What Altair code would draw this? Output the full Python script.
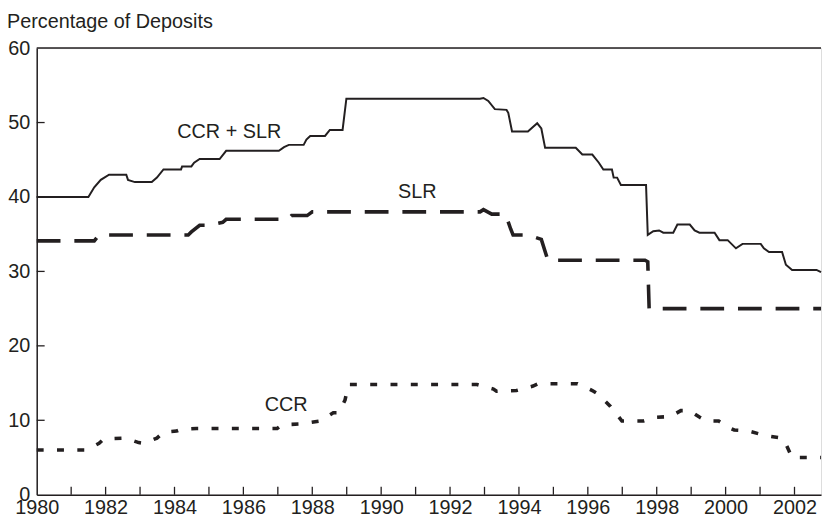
import altair as alt
import pandas as pd

# ---- data ----
ccr_slr_x = [1980.0, 1981.50, 1981.67, 1981.86, 1982.10, 1982.60, 1982.65, 1982.85, 1983.34, 1983.49,
             1983.68, 1984.19, 1984.22, 1984.49, 1984.57, 1984.73, 1985.31, 1985.50, 1987.03, 1987.18,
             1987.32, 1987.75, 1987.83, 1987.94, 1988.37, 1988.51, 1988.88, 1988.99, 1992.87, 1992.97,
             1993.11, 1993.30, 1993.64, 1993.69, 1993.80, 1994.26, 1994.53, 1994.65, 1994.76, 1995.65,
             1995.84, 1996.13, 1996.32, 1996.45, 1996.70, 1996.75, 1996.85, 1996.96, 1997.69, 1997.74,
             1997.90, 1998.07, 1998.19, 1998.48, 1998.60, 1998.96, 1999.10, 1999.24, 1999.68, 1999.82,
             2000.06, 2000.30, 2000.49, 2001.02, 2001.11, 2001.26, 2001.64, 2001.75, 2001.93, 2002.64,
             2002.77]
ccr_slr_y = [40.0, 40.0, 41.3, 42.3, 43.0, 43.0, 42.3, 42.0, 42.0, 42.6,
             43.7, 43.7, 44.1, 44.1, 44.6, 45.1, 45.1, 46.2, 46.2, 46.7,
             47.0, 47.0, 47.7, 48.2, 48.2, 49.0, 49.0, 53.2, 53.2, 53.3,
             52.9, 51.8, 51.7, 51.3, 48.8, 48.8, 49.9, 49.2, 46.6, 46.6,
             45.7, 45.7, 44.6, 43.7, 43.7, 42.6, 42.6, 41.6, 41.6, 34.9,
             35.4, 35.5, 35.2, 35.2, 36.3, 36.3, 35.5, 35.2, 35.2, 34.2,
             34.2, 33.1, 33.7, 33.7, 33.1, 32.6, 32.6, 30.9, 30.2, 30.2,
             29.9]

slr_x = [1980.0, 1981.67, 1981.81, 1984.40, 1984.49, 1984.73, 1984.97, 1985.40, 1985.50, 1987.30,
         1987.40, 1987.85, 1988.00, 1992.87, 1992.97, 1993.21, 1993.61, 1993.76, 1993.83, 1994.26,
         1994.65, 1994.84, 1997.66, 1997.74, 1997.78, 2002.77]
slr_y = [34.1, 34.1, 34.9, 34.9, 35.3, 36.2, 36.2, 36.6, 37.0, 37.0,
         37.5, 37.5, 38.0, 38.0, 38.3, 37.7, 37.7, 35.7, 34.9, 34.9,
         34.3, 31.5, 31.5, 31.3, 25.0, 25.0]

ccr_x = [1980.0, 1981.43, 1981.81, 1981.95, 1982.58, 1982.96, 1983.10, 1983.49, 1983.68, 1984.06,
         1984.20, 1984.64, 1986.98, 1987.13, 1987.65, 1988.23, 1988.61, 1988.76, 1988.95, 1989.05,
         1992.78, 1993.26, 1993.35, 1993.93, 1994.41, 1994.55, 1995.70, 1996.13, 1996.27, 1996.65,
         1996.99, 1997.61, 1997.95, 1998.40, 1998.70, 1998.95, 1999.25, 1999.45, 1999.80, 2000.15,
         2000.25, 2000.63, 2001.11, 2001.20, 2001.64, 2001.74, 2001.93, 2002.77]
ccr_y = [6.0, 6.0, 6.9, 7.5, 7.6, 7.0, 6.9, 7.6, 8.4, 8.55,
         8.8, 8.9, 8.9, 9.4, 9.5, 9.9, 11.0, 11.0, 12.7, 14.8,
         14.8, 14.2, 13.9, 14.0, 14.6, 14.9, 14.9, 14.0, 13.6, 11.9,
         9.9, 9.9, 10.4, 10.5, 11.3, 11.3, 10.4, 9.9, 9.9, 8.9,
         8.7, 8.6, 8.0, 7.9, 7.6, 6.9, 5.0, 5.0]

label_text = ["CCR + SLR", "SLR", "CCR"]
label_x = [1985.59, 1991.05, 1987.24]
label_y = [48.7, 40.6, 12.1]

x_label_years = list(range(1980, 2003, 2))
x_tick_years = list(range(1981, 2003))
y_label_values = [0, 10, 20, 30, 40, 50, 60]
y_tick_values = [10, 20, 30, 40, 50]
y_title = "Percentage of Deposits"

# ---- layout ----
W, H = 792, 451
FONT = "Liberation Sans"
INK = "#231f20"

xscale = alt.Scale(domain=[1980, 2002.77], nice=False, zero=False)
yscale = alt.Scale(domain=[0, 60], nice=False)


def line_df(xs, ys):
    return pd.DataFrame({"year": xs, "value": ys, "i": list(range(len(xs)))})


x_axis = alt.Axis(values=x_label_years, format="d", tickSize=0, labelPadding=3,
                  labelFlush=False, labelOverlap=False, grid=False, domainColor=INK,
                  domainWidth=1.5, labelFontSize=20, labelFont=FONT, labelColor=INK, title=None)
y_axis = alt.Axis(values=y_label_values, format="d", tickSize=0, labelPadding=7,
                  labelOverlap=False, grid=False, domainColor=INK, domainWidth=1.5,
                  labelFontSize=20, labelFont=FONT, labelColor=INK, title=None)

X = alt.X("year:Q", scale=xscale, axis=x_axis)
Y = alt.Y("value:Q", scale=yscale, axis=y_axis)

total = alt.Chart(line_df(ccr_slr_x, ccr_slr_y)).mark_line(
    color=INK, strokeWidth=2).encode(x=X, y=Y, order="i:Q")

slr = alt.Chart(line_df(slr_x, slr_y)).mark_line(
    color=INK, strokeWidth=3.6, strokeDash=[24, 14], strokeCap="butt").encode(
    x=X, y=Y, order="i:Q")

ccr = alt.Chart(line_df(ccr_x, ccr_y)).mark_line(
    color=INK, strokeWidth=3.6, strokeDash=[7, 13.5], strokeCap="butt").encode(
    x=X, y=Y, order="i:Q")

xticks = alt.Chart(pd.DataFrame({"year": x_tick_years})).mark_rule(
    color=INK, strokeWidth=1.3).encode(
    x=X, y=alt.value(H), y2=alt.value(H - 8))

yticks = alt.Chart(pd.DataFrame({"value": y_tick_values})).mark_rule(
    color=INK, strokeWidth=1.3).encode(
    y=Y, x=alt.value(0), x2=alt.value(8))

top_border = alt.Chart(pd.DataFrame({"v": [0]})).mark_rule(
    color=INK, strokeWidth=1.5).encode(
    x=alt.value(0), x2=alt.value(W), y=alt.value(0))

labels = alt.Chart(pd.DataFrame({"t": label_text, "year": label_x, "value": label_y})).mark_text(
    font=FONT, fontSize=20, color=INK, align="center", baseline="middle").encode(
    x=X, y=Y, text="t:N")

title = alt.Chart(pd.DataFrame({"t": [y_title]})).mark_text(
    font=FONT, fontSize=20, color=INK, align="left", baseline="alphabetic").encode(
    x=alt.value(-30), y=alt.value(-20), text="t:N")

chart = alt.layer(total, slr, ccr, xticks, yticks, top_border, labels, title).properties(
    width=W, height=H,
    autosize=alt.AutoSizeParams(type="none"),
    padding={"left": 29, "top": 38, "right": 2, "bottom": 20},
).configure_view(stroke=None).configure(background="white")

chart.save("out.html", embed_options={"renderer": "svg", "actions": False})
